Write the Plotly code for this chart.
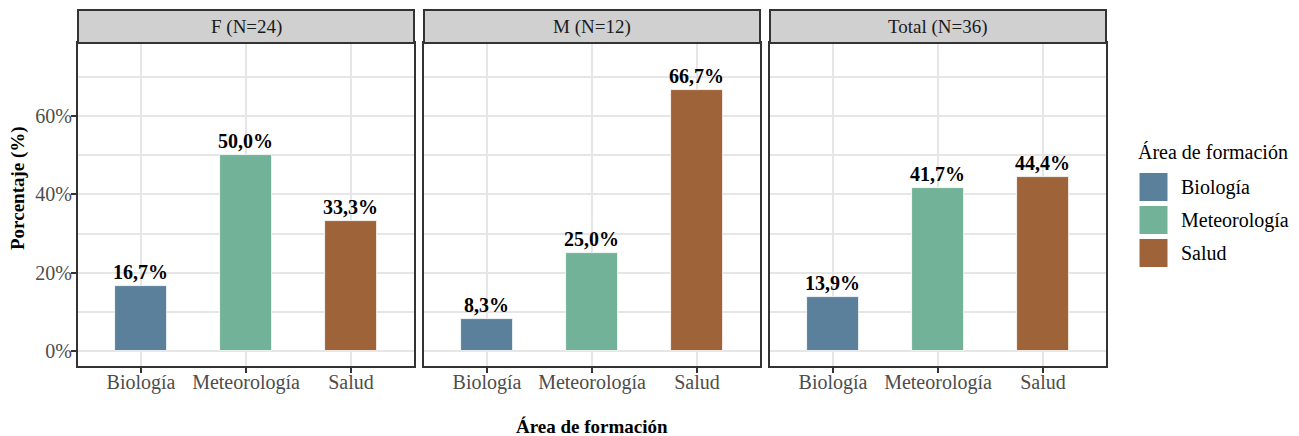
import plotly.graph_objects as go
from plotly.subplots import make_subplots

categories = ["Biología", "Meteorología", "Salud"]
panels = ["F (N=24)", "M (N=12)", "Total (N=36)"]
values_F = [16.7, 50.0, 33.3]
values_M = [8.3, 25.0, 66.7]
values_Total = [13.9, 41.7, 44.4]
series = [values_F, values_M, values_Total]
colors = ["#5B809B", "#72B299", "#9E6339"]
y_ticks = [0, 20, 40, 60]
y_tick_labels = ["0%", "20%", "40%", "60%"]
y_minor = [10, 30, 50, 70]

FONT = "Liberation Serif"
OFF = 8  # page body margin
W, H = 1299 - OFF, 436 - OFF
# target positions in screen pixels
SL, SR, ST, SB = 78, 1106, 43, 366
L = SL - OFF
T = ST - OFF
R = W - (SR - OFF)
B = H - (SB - OFF)
PW = SR - SL
PH = SB - ST


def py(p):
    return (SB - p) / PH


def px(p):
    return (p - SL) / PW


fig = make_subplots(rows=1, cols=3, shared_yaxes=True, horizontal_spacing=10 / PW)

for i, vals in enumerate(series):
    labels = ["<b>" + f"{v:.1f}".replace(".", ",") + "%</b>" for v in vals]
    fig.add_trace(
        go.Bar(
            x=categories, y=vals, width=0.5,
            marker=dict(color=colors, line=dict(color="white", width=0.8)),
            text=labels, textposition="outside", cliponaxis=False,
            constraintext="none",
            textfont=dict(family=FONT, size=20, color="black"),
            showlegend=False, hoverinfo="skip",
        ),
        row=1, col=i + 1,
    )
    xa = "x" if i == 0 else f"x{i+1}"
    # strip
    fig.add_shape(type="rect", xref=f"{xa} domain", yref="paper",
                  x0=0, x1=1, y0=1, y1=1 + 33 / PH,
                  fillcolor="#D0D0D0", line=dict(color="#333333", width=2), layer="above")
    fig.add_annotation(xref=f"{xa} domain", yref="paper", x=0.5, y=1 + 16.5 / PH,
                       text=panels[i], showarrow=False,
                       font=dict(family=FONT, size=19, color="#1A1A1A"),
                       xanchor="center", yanchor="middle")

fig.update_xaxes(
    type="category", categoryorder="array", categoryarray=categories,
    range=[-0.6, 2.6], showgrid=True, gridcolor="#E6E6E6", gridwidth=2,
    showline=True, mirror=True, linecolor="#333333", linewidth=2,
    ticks="outside", ticklen=5, tickcolor="#333333", tickwidth=1.5,
    ticklabelstandoff=-8,
    tickfont=dict(family=FONT, size=20, color="#4D4D4D"), zeroline=False,
)
fig.update_yaxes(
    range=[-3.8, 78.6], tickvals=y_ticks, ticktext=y_tick_labels,
    showgrid=True, gridcolor="#E6E6E6", gridwidth=2,
    minor=dict(tickvals=y_minor, showgrid=True, gridcolor="#E6E6E6", gridwidth=1.5),
    showline=True, mirror=True, linecolor="#333333", linewidth=2,
    zeroline=False,
    tickfont=dict(family=FONT, size=20, color="#4D4D4D"),
)
fig.update_yaxes(ticks="outside", ticklen=5, tickcolor="#333333", tickwidth=1.5,
                 ticklabelstandoff=-5, row=1, col=1)

# axis titles
fig.add_annotation(xref="paper", yref="paper", x=0.5, y=py(426), text="<b>Área de formación</b>",
                   showarrow=False, font=dict(family=FONT, size=19, color="black"),
                   xanchor="center", yanchor="middle")
fig.add_annotation(xref="paper", yref="paper", x=px(18), y=py(188), text="<b>Porcentaje (%)</b>",
                   showarrow=False, textangle=-90, font=dict(family=FONT, size=19, color="black"),
                   xanchor="center", yanchor="middle")

# legend
fig.add_annotation(xref="paper", yref="paper", x=px(1136), y=py(152), text="Área de formación",
                   showarrow=False, font=dict(family=FONT, size=20, color="black"),
                   xanchor="left", yanchor="middle")
for j, (cat, col) in enumerate(zip(categories, colors)):
    cy = 187 + 33 * j
    fig.add_shape(type="rect", xref="paper", yref="paper",
                  x0=px(1139), x1=px(1168), y0=py(cy + 14.5), y1=py(cy - 14.5),
                  fillcolor=col, line=dict(color="white", width=1))
    fig.add_annotation(xref="paper", yref="paper", x=px(1179), y=py(cy), text=cat,
                       showarrow=False, font=dict(family=FONT, size=20, color="black"),
                       xanchor="left", yanchor="middle")

fig.update_layout(
    width=W, height=H, margin=dict(l=L, r=R, t=T, b=B, autoexpand=False),
    plot_bgcolor="white", paper_bgcolor="white",
    font=dict(family=FONT), bargap=0, showlegend=False,
)

fig.write_html("out.html")
